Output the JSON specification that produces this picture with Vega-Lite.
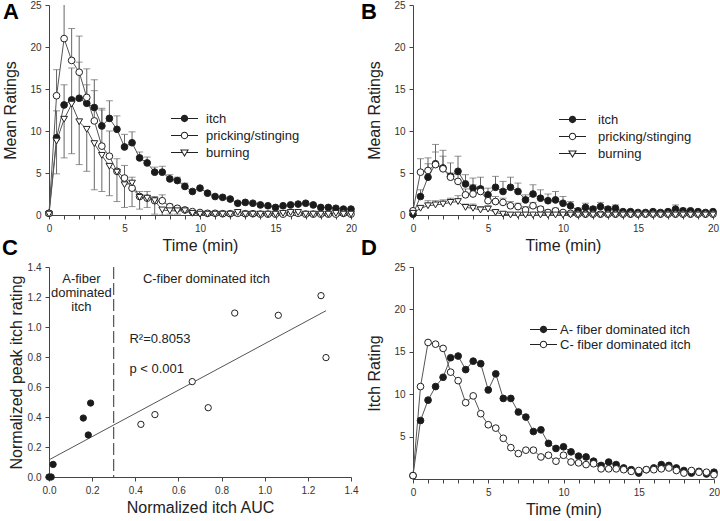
{
"$schema":"https://vega.github.io/schema/vega-lite/v6.json",
"padding":{"left":2,"top":0,"right":2,"bottom":2},
"datasets":{
"ab":[
{"p":"A","s":"itch","t":0,"y":0.2},{"p":"A","s":"itch","t":0.5,"y":9.2,"e":12.4},{"p":"A","s":"itch","t":1,"y":13.1,"e":15.5},{"p":"A","s":"itch","t":1.5,"y":13.7,"e":17.5},{"p":"A","s":"itch","t":2,"y":13.9,"e":18.2},{"p":"A","s":"itch","t":2.5,"y":13.3,"e":15.5},{"p":"A","s":"itch","t":3,"y":12.8,"e":14.8},{"p":"A","s":"itch","t":3.5,"y":10.6,"e":12.5},{"p":"A","s":"itch","t":4,"y":11.5,"e":13.6},{"p":"A","s":"itch","t":4.5,"y":10.2,"e":11.8},{"p":"A","s":"itch","t":5,"y":8.1,"e":9.6},{"p":"A","s":"itch","t":5.5,"y":8.6,"e":9.9},{"p":"A","s":"itch","t":6,"y":6.8,"e":7.5},{"p":"A","s":"itch","t":6.5,"y":6.2,"e":6.9},{"p":"A","s":"itch","t":7,"y":5.1,"e":5.7},{"p":"A","s":"itch","t":7.5,"y":5.1,"e":5.8},{"p":"A","s":"itch","t":8,"y":4.3,"e":4.8},{"p":"A","s":"itch","t":8.5,"y":4.1,"e":4.5},{"p":"A","s":"itch","t":9,"y":3.4,"e":3.8},{"p":"A","s":"itch","t":9.5,"y":2.8},{"p":"A","s":"itch","t":10,"y":3.2},{"p":"A","s":"itch","t":10.5,"y":2.6},{"p":"A","s":"itch","t":11,"y":2.2},{"p":"A","s":"itch","t":11.5,"y":2.1},{"p":"A","s":"itch","t":12,"y":1.9},{"p":"A","s":"itch","t":12.5,"y":1.4},{"p":"A","s":"itch","t":13,"y":1.5},{"p":"A","s":"itch","t":13.5,"y":1.4},{"p":"A","s":"itch","t":14,"y":1.2},{"p":"A","s":"itch","t":14.5,"y":1.1},{"p":"A","s":"itch","t":15,"y":0.9},{"p":"A","s":"itch","t":15.5,"y":1.1},{"p":"A","s":"itch","t":16,"y":1.2},{"p":"A","s":"itch","t":16.5,"y":1.3},{"p":"A","s":"itch","t":17,"y":1.4},{"p":"A","s":"itch","t":17.5,"y":1.2},{"p":"A","s":"itch","t":18,"y":0.9},{"p":"A","s":"itch","t":18.5,"y":0.9},{"p":"A","s":"itch","t":19,"y":0.8},{"p":"A","s":"itch","t":19.5,"y":0.7},{"p":"A","s":"itch","t":20,"y":0.7},
{"p":"A","s":"pricking/stinging","t":0,"y":0.2},{"p":"A","s":"pricking/stinging","t":0.5,"y":14.2,"e":17.3},{"p":"A","s":"pricking/stinging","t":1,"y":21.0,"e":27},{"p":"A","s":"pricking/stinging","t":1.5,"y":18.4,"e":22.2},{"p":"A","s":"pricking/stinging","t":2,"y":17.0,"e":21.3},{"p":"A","s":"pricking/stinging","t":2.5,"y":14.0,"e":17.4},{"p":"A","s":"pricking/stinging","t":3,"y":11.2,"e":16.1},{"p":"A","s":"pricking/stinging","t":3.5,"y":8.2,"e":12.7},{"p":"A","s":"pricking/stinging","t":4,"y":7.0,"e":10.0},{"p":"A","s":"pricking/stinging","t":4.5,"y":5.2,"e":6.7},{"p":"A","s":"pricking/stinging","t":5,"y":4.4,"e":5.9},{"p":"A","s":"pricking/stinging","t":5.5,"y":3.2,"e":4.5},{"p":"A","s":"pricking/stinging","t":6,"y":2.2,"e":2.8},{"p":"A","s":"pricking/stinging","t":6.5,"y":2.0,"e":2.8},{"p":"A","s":"pricking/stinging","t":7,"y":1.7,"e":2.2},{"p":"A","s":"pricking/stinging","t":7.5,"y":1.7,"e":2.4},{"p":"A","s":"pricking/stinging","t":8,"y":1.0,"e":1.3},{"p":"A","s":"pricking/stinging","t":8.5,"y":0.8,"e":1.0},{"p":"A","s":"pricking/stinging","t":9,"y":0.6,"e":0.8},{"p":"A","s":"pricking/stinging","t":9.5,"y":0.4},{"p":"A","s":"pricking/stinging","t":10,"y":0.3},{"p":"A","s":"pricking/stinging","t":10.5,"y":0.2},{"p":"A","s":"pricking/stinging","t":11,"y":0.2},{"p":"A","s":"pricking/stinging","t":11.5,"y":0.15},{"p":"A","s":"pricking/stinging","t":12,"y":0.15},{"p":"A","s":"pricking/stinging","t":12.5,"y":0.2},{"p":"A","s":"pricking/stinging","t":13,"y":0.15},{"p":"A","s":"pricking/stinging","t":13.5,"y":0.15},{"p":"A","s":"pricking/stinging","t":14,"y":0.1},{"p":"A","s":"pricking/stinging","t":14.5,"y":0.1},{"p":"A","s":"pricking/stinging","t":15,"y":0.1},{"p":"A","s":"pricking/stinging","t":15.5,"y":0.1},{"p":"A","s":"pricking/stinging","t":16,"y":0.2},{"p":"A","s":"pricking/stinging","t":16.5,"y":0.2},{"p":"A","s":"pricking/stinging","t":17,"y":0.1},{"p":"A","s":"pricking/stinging","t":17.5,"y":0.1},{"p":"A","s":"pricking/stinging","t":18,"y":0.1},{"p":"A","s":"pricking/stinging","t":18.5,"y":0.1},{"p":"A","s":"pricking/stinging","t":19,"y":0.1},{"p":"A","s":"pricking/stinging","t":19.5,"y":0.2},{"p":"A","s":"pricking/stinging","t":20,"y":0.1},
{"p":"A","s":"burning","t":0,"y":0.1},{"p":"A","s":"burning","t":0.5,"y":8.8,"e":4.9},{"p":"A","s":"burning","t":1,"y":11.4,"e":6.8},{"p":"A","s":"burning","t":1.5,"y":13.2,"e":7.3},{"p":"A","s":"burning","t":2,"y":11.1,"e":6.0},{"p":"A","s":"burning","t":2.5,"y":10.2,"e":5.2},{"p":"A","s":"burning","t":3,"y":8.5,"e":3.0},{"p":"A","s":"burning","t":3.5,"y":7.1,"e":2.8},{"p":"A","s":"burning","t":4,"y":5.8,"e":2.3},{"p":"A","s":"burning","t":4.5,"y":5.1,"e":1.6},{"p":"A","s":"burning","t":5,"y":3.6,"e":0.9},{"p":"A","s":"burning","t":5.5,"y":3.8,"e":1.0},{"p":"A","s":"burning","t":6,"y":2.1,"e":0.7},{"p":"A","s":"burning","t":6.5,"y":2.0,"e":0.9},{"p":"A","s":"burning","t":7,"y":1.7,"e":0.1},{"p":"A","s":"burning","t":7.5,"y":0.6,"e":0.0},{"p":"A","s":"burning","t":8,"y":0.5,"e":0.1},{"p":"A","s":"burning","t":8.5,"y":0.5,"e":0.1},{"p":"A","s":"burning","t":9,"y":0.5},{"p":"A","s":"burning","t":9.5,"y":0.2},{"p":"A","s":"burning","t":10,"y":0.1},{"p":"A","s":"burning","t":10.5,"y":0.1},{"p":"A","s":"burning","t":11,"y":0.1},{"p":"A","s":"burning","t":11.5,"y":0.1},{"p":"A","s":"burning","t":12,"y":0.1},{"p":"A","s":"burning","t":12.5,"y":0.3},{"p":"A","s":"burning","t":13,"y":0.1},{"p":"A","s":"burning","t":13.5,"y":0.1},{"p":"A","s":"burning","t":14,"y":0.1},{"p":"A","s":"burning","t":14.5,"y":0.1},{"p":"A","s":"burning","t":15,"y":0.1},{"p":"A","s":"burning","t":15.5,"y":0.2},{"p":"A","s":"burning","t":16,"y":0.3},{"p":"A","s":"burning","t":16.5,"y":0.3},{"p":"A","s":"burning","t":17,"y":0.1},{"p":"A","s":"burning","t":17.5,"y":0.1},{"p":"A","s":"burning","t":18,"y":0.1},{"p":"A","s":"burning","t":18.5,"y":0.1},{"p":"A","s":"burning","t":19,"y":0.2},{"p":"A","s":"burning","t":19.5,"y":0.1},{"p":"A","s":"burning","t":20,"y":0.1},
{"p":"B","s":"itch","t":0,"y":0.1},{"p":"B","s":"itch","t":0.5,"y":2.2,"e":3.0},{"p":"B","s":"itch","t":1,"y":4.5,"e":6.1},{"p":"B","s":"itch","t":1.5,"y":6.1,"e":8.4},{"p":"B","s":"itch","t":2,"y":5.6,"e":7.7},{"p":"B","s":"itch","t":2.5,"y":4.6,"e":5.0},{"p":"B","s":"itch","t":3,"y":5.2,"e":7.0},{"p":"B","s":"itch","t":3.5,"y":3.7,"e":4.8},{"p":"B","s":"itch","t":4,"y":3.2,"e":4.4},{"p":"B","s":"itch","t":4.5,"y":3.1,"e":4.5},{"p":"B","s":"itch","t":5,"y":2.4,"e":3.2},{"p":"B","s":"itch","t":5.5,"y":3.3,"e":4.6},{"p":"B","s":"itch","t":6,"y":2.8,"e":4.0},{"p":"B","s":"itch","t":6.5,"y":3.3,"e":4.5},{"p":"B","s":"itch","t":7,"y":2.8,"e":3.8},{"p":"B","s":"itch","t":7.5,"y":1.8,"e":2.4},{"p":"B","s":"itch","t":8,"y":2.5,"e":3.6},{"p":"B","s":"itch","t":8.5,"y":2.0,"e":3.0},{"p":"B","s":"itch","t":9,"y":1.7,"e":2.5},{"p":"B","s":"itch","t":9.5,"y":1.8,"e":2.8},{"p":"B","s":"itch","t":10,"y":1.4,"e":2.2},{"p":"B","s":"itch","t":10.5,"y":1.1,"e":1.6},{"p":"B","s":"itch","t":11,"y":0.5,"e":0.8},{"p":"B","s":"itch","t":11.5,"y":0.9,"e":1.4},{"p":"B","s":"itch","t":12,"y":0.7,"e":1.0},{"p":"B","s":"itch","t":12.5,"y":1.0,"e":1.5},{"p":"B","s":"itch","t":13,"y":0.7,"e":1.0},{"p":"B","s":"itch","t":13.5,"y":0.8,"e":1.2},{"p":"B","s":"itch","t":14,"y":0.4,"e":0.6},{"p":"B","s":"itch","t":14.5,"y":0.4,"e":0.6},{"p":"B","s":"itch","t":15,"y":0.3,"e":0.5},{"p":"B","s":"itch","t":15.5,"y":0.3,"e":0.4},{"p":"B","s":"itch","t":16,"y":0.4,"e":0.6},{"p":"B","s":"itch","t":16.5,"y":0.3,"e":0.5},{"p":"B","s":"itch","t":17,"y":0.4,"e":0.6},{"p":"B","s":"itch","t":17.5,"y":0.7,"e":1.2},{"p":"B","s":"itch","t":18,"y":0.5,"e":0.8},{"p":"B","s":"itch","t":18.5,"y":0.5,"e":0.7},{"p":"B","s":"itch","t":19,"y":0.4,"e":0.6},{"p":"B","s":"itch","t":19.5,"y":0.3,"e":0.5},{"p":"B","s":"itch","t":20,"y":0.4,"e":0.6},
{"p":"B","s":"pricking/stinging","t":0,"y":0.5},{"p":"B","s":"pricking/stinging","t":0.5,"y":5.1,"e":6.7},{"p":"B","s":"pricking/stinging","t":1,"y":5.3,"e":6.8},{"p":"B","s":"pricking/stinging","t":1.5,"y":6.0,"e":7.5},{"p":"B","s":"pricking/stinging","t":2,"y":5.5,"e":7.0},{"p":"B","s":"pricking/stinging","t":2.5,"y":4.5,"e":6.2},{"p":"B","s":"pricking/stinging","t":3,"y":4.0,"e":4.8},{"p":"B","s":"pricking/stinging","t":3.5,"y":2.4,"e":3.1},{"p":"B","s":"pricking/stinging","t":4,"y":2.5,"e":3.6},{"p":"B","s":"pricking/stinging","t":4.5,"y":2.8,"e":3.4},{"p":"B","s":"pricking/stinging","t":5,"y":1.7,"e":2.3},{"p":"B","s":"pricking/stinging","t":5.5,"y":1.6,"e":2.2},{"p":"B","s":"pricking/stinging","t":6,"y":1.5,"e":2.0},{"p":"B","s":"pricking/stinging","t":6.5,"y":1.1,"e":1.6},{"p":"B","s":"pricking/stinging","t":7,"y":1.0,"e":1.4},{"p":"B","s":"pricking/stinging","t":7.5,"y":0.6,"e":1.0},{"p":"B","s":"pricking/stinging","t":8,"y":1.1,"e":1.5},{"p":"B","s":"pricking/stinging","t":8.5,"y":0.7,"e":1.0},{"p":"B","s":"pricking/stinging","t":9,"y":0.3,"e":0.6},{"p":"B","s":"pricking/stinging","t":9.5,"y":0.5,"e":0.8},{"p":"B","s":"pricking/stinging","t":10,"y":0.3,"e":0.5},{"p":"B","s":"pricking/stinging","t":10.5,"y":0.2},{"p":"B","s":"pricking/stinging","t":11,"y":0.1},{"p":"B","s":"pricking/stinging","t":11.5,"y":0.1},{"p":"B","s":"pricking/stinging","t":12,"y":0.1},{"p":"B","s":"pricking/stinging","t":12.5,"y":0.1},{"p":"B","s":"pricking/stinging","t":13,"y":0.1},{"p":"B","s":"pricking/stinging","t":13.5,"y":0.1},{"p":"B","s":"pricking/stinging","t":14,"y":0.1},{"p":"B","s":"pricking/stinging","t":14.5,"y":0.1},{"p":"B","s":"pricking/stinging","t":15,"y":0.1},{"p":"B","s":"pricking/stinging","t":15.5,"y":0.1},{"p":"B","s":"pricking/stinging","t":16,"y":0.1},{"p":"B","s":"pricking/stinging","t":16.5,"y":0.1},{"p":"B","s":"pricking/stinging","t":17,"y":0.1},{"p":"B","s":"pricking/stinging","t":17.5,"y":0.1},{"p":"B","s":"pricking/stinging","t":18,"y":0.1},{"p":"B","s":"pricking/stinging","t":18.5,"y":0.1},{"p":"B","s":"pricking/stinging","t":19,"y":0.1},{"p":"B","s":"pricking/stinging","t":19.5,"y":0.1},{"p":"B","s":"pricking/stinging","t":20,"y":0.1},
{"p":"B","s":"burning","t":0,"y":0.2},{"p":"B","s":"burning","t":0.5,"y":0.8,"e":1.1},{"p":"B","s":"burning","t":1,"y":1.1,"e":1.7},{"p":"B","s":"burning","t":1.5,"y":1.2,"e":1.7},{"p":"B","s":"burning","t":2,"y":1.3,"e":1.8},{"p":"B","s":"burning","t":2.5,"y":1.5,"e":2.0},{"p":"B","s":"burning","t":3,"y":1.6,"e":2.3},{"p":"B","s":"burning","t":3.5,"y":0.9,"e":1.3},{"p":"B","s":"burning","t":4,"y":0.8,"e":1.3},{"p":"B","s":"burning","t":4.5,"y":0.6,"e":1.0},{"p":"B","s":"burning","t":5,"y":0.7,"e":1.1},{"p":"B","s":"burning","t":5.5,"y":0.3,"e":0.5},{"p":"B","s":"burning","t":6,"y":0.1,"e":0.2},{"p":"B","s":"burning","t":6.5,"y":0.0},{"p":"B","s":"burning","t":7,"y":0.0},{"p":"B","s":"burning","t":7.5,"y":0.0},{"p":"B","s":"burning","t":8,"y":0.0},{"p":"B","s":"burning","t":8.5,"y":0.0},{"p":"B","s":"burning","t":9,"y":0.0},{"p":"B","s":"burning","t":9.5,"y":0.0},{"p":"B","s":"burning","t":10,"y":0.0},{"p":"B","s":"burning","t":10.5,"y":0.0},{"p":"B","s":"burning","t":11,"y":0.0},{"p":"B","s":"burning","t":11.5,"y":0.0},{"p":"B","s":"burning","t":12,"y":0.0},{"p":"B","s":"burning","t":12.5,"y":0.0},{"p":"B","s":"burning","t":13,"y":0.0},{"p":"B","s":"burning","t":13.5,"y":0.0},{"p":"B","s":"burning","t":14,"y":0.0},{"p":"B","s":"burning","t":14.5,"y":0.0},{"p":"B","s":"burning","t":15,"y":0.0},{"p":"B","s":"burning","t":15.5,"y":0.0},{"p":"B","s":"burning","t":16,"y":0.0},{"p":"B","s":"burning","t":16.5,"y":0.0},{"p":"B","s":"burning","t":17,"y":0.0},{"p":"B","s":"burning","t":17.5,"y":0.0},{"p":"B","s":"burning","t":18,"y":0.0},{"p":"B","s":"burning","t":18.5,"y":0.0},{"p":"B","s":"burning","t":19,"y":0.0},{"p":"B","s":"burning","t":19.5,"y":0.0},{"p":"B","s":"burning","t":20,"y":0.0}
],
"c":[
{"g":"A","x":0,"y":0},{"g":"A","x":0.01,"y":0},{"g":"A","x":0.019,"y":0.084},{"g":"A","x":0.159,"y":0.393},{"g":"A","x":0.182,"y":0.28},{"g":"A","x":0.193,"y":0.493},
{"g":"C","x":0.426,"y":0.351},{"g":"C","x":0.491,"y":0.416},{"g":"C","x":0.664,"y":0.636},{"g":"C","x":0.738,"y":0.462},{"g":"C","x":0.861,"y":1.093},{"g":"C","x":1.063,"y":1.078},{"g":"C","x":1.261,"y":1.209},{"g":"C","x":1.284,"y":0.796}
],
"cutoff":[{"x":0.3}],
"regions":[{"label":"A-fiber\ndominated\nitch","x":0.15,"y":1.36},{"label":"C-fiber dominated itch","x":0.73,"y":1.36}],
"stats":[{"label":"R²=0.8053","x":0.373,"y":0.92},{"label":"p < 0.001","x":0.373,"y":0.72}],
"d":[
{"s":"A- fiber dominated itch","t":0,"y":0.4},{"s":"A- fiber dominated itch","t":0.5,"y":6.9},{"s":"A- fiber dominated itch","t":1,"y":9.3},{"s":"A- fiber dominated itch","t":1.5,"y":10.9},{"s":"A- fiber dominated itch","t":2,"y":12.0},{"s":"A- fiber dominated itch","t":2.5,"y":14.3},{"s":"A- fiber dominated itch","t":3,"y":14.5},{"s":"A- fiber dominated itch","t":3.5,"y":12.9},{"s":"A- fiber dominated itch","t":4,"y":13.9},{"s":"A- fiber dominated itch","t":4.5,"y":13.6},{"s":"A- fiber dominated itch","t":5,"y":10.5},{"s":"A- fiber dominated itch","t":5.5,"y":12.4},{"s":"A- fiber dominated itch","t":6,"y":9.5},{"s":"A- fiber dominated itch","t":6.5,"y":9.5},{"s":"A- fiber dominated itch","t":7,"y":7.9},{"s":"A- fiber dominated itch","t":7.5,"y":7.3},{"s":"A- fiber dominated itch","t":8,"y":5.6},{"s":"A- fiber dominated itch","t":8.5,"y":5.8},{"s":"A- fiber dominated itch","t":9,"y":4.2},{"s":"A- fiber dominated itch","t":9.5,"y":3.6},{"s":"A- fiber dominated itch","t":10,"y":3.8},{"s":"A- fiber dominated itch","t":10.5,"y":3.2},{"s":"A- fiber dominated itch","t":11,"y":2.7},{"s":"A- fiber dominated itch","t":11.5,"y":2.6},{"s":"A- fiber dominated itch","t":12,"y":2.1},{"s":"A- fiber dominated itch","t":12.5,"y":1.6},{"s":"A- fiber dominated itch","t":13,"y":2.0},{"s":"A- fiber dominated itch","t":13.5,"y":1.7},{"s":"A- fiber dominated itch","t":14,"y":1.3},{"s":"A- fiber dominated itch","t":14.5,"y":1.1},{"s":"A- fiber dominated itch","t":15,"y":0.7},{"s":"A- fiber dominated itch","t":15.5,"y":1.1},{"s":"A- fiber dominated itch","t":16,"y":1.3},{"s":"A- fiber dominated itch","t":16.5,"y":1.7},{"s":"A- fiber dominated itch","t":17,"y":1.6},{"s":"A- fiber dominated itch","t":17.5,"y":1.3},{"s":"A- fiber dominated itch","t":18,"y":1.0},{"s":"A- fiber dominated itch","t":18.5,"y":0.7},{"s":"A- fiber dominated itch","t":19,"y":0.9},{"s":"A- fiber dominated itch","t":19.5,"y":0.6},{"s":"A- fiber dominated itch","t":20,"y":0.8},
{"s":"C- fiber dominated itch","t":0,"y":0.4},{"s":"C- fiber dominated itch","t":0.5,"y":10.9},{"s":"C- fiber dominated itch","t":1,"y":16.1},{"s":"C- fiber dominated itch","t":1.5,"y":15.9},{"s":"C- fiber dominated itch","t":2,"y":15.4},{"s":"C- fiber dominated itch","t":2.5,"y":12.6},{"s":"C- fiber dominated itch","t":3,"y":11.6},{"s":"C- fiber dominated itch","t":3.5,"y":9.0},{"s":"C- fiber dominated itch","t":4,"y":9.8},{"s":"C- fiber dominated itch","t":4.5,"y":7.7},{"s":"C- fiber dominated itch","t":5,"y":6.4},{"s":"C- fiber dominated itch","t":5.5,"y":6.0},{"s":"C- fiber dominated itch","t":6,"y":4.8},{"s":"C- fiber dominated itch","t":6.5,"y":3.7},{"s":"C- fiber dominated itch","t":7,"y":3.0},{"s":"C- fiber dominated itch","t":7.5,"y":3.4},{"s":"C- fiber dominated itch","t":8,"y":3.4},{"s":"C- fiber dominated itch","t":8.5,"y":2.6},{"s":"C- fiber dominated itch","t":9,"y":2.8},{"s":"C- fiber dominated itch","t":9.5,"y":2.1},{"s":"C- fiber dominated itch","t":10,"y":2.8},{"s":"C- fiber dominated itch","t":10.5,"y":2.0},{"s":"C- fiber dominated itch","t":11,"y":1.9},{"s":"C- fiber dominated itch","t":11.5,"y":1.7},{"s":"C- fiber dominated itch","t":12,"y":1.8},{"s":"C- fiber dominated itch","t":12.5,"y":1.2},{"s":"C- fiber dominated itch","t":13,"y":1.2},{"s":"C- fiber dominated itch","t":13.5,"y":1.2},{"s":"C- fiber dominated itch","t":14,"y":1.1},{"s":"C- fiber dominated itch","t":14.5,"y":0.9},{"s":"C- fiber dominated itch","t":15,"y":1.0},{"s":"C- fiber dominated itch","t":15.5,"y":1.1},{"s":"C- fiber dominated itch","t":16,"y":1.1},{"s":"C- fiber dominated itch","t":16.5,"y":1.2},{"s":"C- fiber dominated itch","t":17,"y":1.3},{"s":"C- fiber dominated itch","t":17.5,"y":1.0},{"s":"C- fiber dominated itch","t":18,"y":0.7},{"s":"C- fiber dominated itch","t":18.5,"y":1.0},{"s":"C- fiber dominated itch","t":19,"y":0.8},{"s":"C- fiber dominated itch","t":19.5,"y":0.8},{"s":"C- fiber dominated itch","t":20,"y":0.5}
]
},
"columns":2,
"spacing":{"row":52,"column":62},
"bounds":"flush",
"resolve":{"scale":{"fill":"independent","shape":"independent"},"legend":{"fill":"independent","shape":"independent"}},
"concat":[
{"width":302,"height":210,
"title":{"text":"A","dx":-46,"dy":28},
"data":{"name":"ab"},
"transform":[{"filter":"datum.p === 'A'"}],
"encoding":{
"x":{"field":"t","type":"quantitative","scale":{"domain":[0,20],"nice":false},"axis":{"title":"Time (min)","values":[0,1,2,3,4,5,6,7,8,9,10,11,12,13,14,15,16,17,18,19,20],"labelExpr":"datum.value % 5 === 0 ? datum.label : ''"}},
"y":{"field":"y","type":"quantitative","title":"Mean Ratings","scale":{"domain":[0,25],"nice":false},"axis":{"values":[0,5,10,15,20,25],"titlePadding":11}}
},
"layer":[
{"transform":[{"filter":"isValid(datum.e)"}],"mark":{"type":"rule","color":"#666","strokeWidth":1,"clip":true},"encoding":{"y2":{"field":"e"}}},
{"transform":[{"filter":"isValid(datum.e)"}],"mark":{"type":"tick","orient":"horizontal","color":"#666","size":7,"thickness":1,"clip":true},"encoding":{"y":{"field":"e","type":"quantitative","title":"Mean Ratings"}}},
{"mark":{"type":"line","color":"#555","strokeWidth":1},"encoding":{"detail":{"field":"s"}}},
{"mark":{"type":"point","filled":true,"stroke":"#222","strokeWidth":1,"size":45,"opacity":1},"encoding":{
"shape":{"field":"s","scale":{"domain":["itch","pricking/stinging","burning"],"range":["circle","circle","triangle-down"]},"legend":null},
"fill":{"field":"s","scale":{"domain":["itch","pricking/stinging","burning"],"range":["#1a1a1a","#ffffff","#ffffff"]},"legend":null}}},
{"transform":[{"filter":"false"}],"mark":{"type":"point","filled":true,"color":"#222","opacity":1},"encoding":{
"shape":{"field":"s","scale":{"domain":["itch","pricking/stinging","burning"],"range":[
"M-1,-0.037H-0.25V0.037H-1ZM0.25,-0.037H1V0.037H0.25ZM-0.27,0A0.27,0.27 0 1 1 0.27,0A0.27,0.27 0 1 1 -0.27,0Z",
"M-1,-0.037H-0.25V0.037H-1ZM0.25,-0.037H1V0.037H0.25ZM-0.27,0A0.27,0.27 0 1 1 0.27,0A0.27,0.27 0 1 1 -0.27,0ZM-0.2,0A0.2,0.2 0 1 0 0.2,0A0.2,0.2 0 1 0 -0.2,0Z",
"M-1,-0.037H-0.19V0.037H-1ZM0.19,-0.037H1V0.037H0.19ZM-0.33,-0.22L0.33,-0.22L0,0.33ZM-0.199,-0.146L0,0.186L0.199,-0.146Z"]},
"legend":{"title":null,"orient":"none","legendX":122,"legendY":105,"symbolSize":729,"clipHeight":17,"rowPadding":0,"labelOffset":8,"labelFontSize":13,"labelColor":"#222","symbolStrokeWidth":0,"padding":0}}}}
],
"resolve":{"scale":{"shape":"independent"},"legend":{"shape":"independent"}}
},
{"width":300,"height":210,
"title":{"text":"B","dx":-52,"dy":28},
"data":{"name":"ab"},
"transform":[{"filter":"datum.p === 'B'"}],
"encoding":{
"x":{"field":"t","type":"quantitative","scale":{"domain":[0,20],"nice":false},"axis":{"title":"Time (min)","values":[0,1,2,3,4,5,6,7,8,9,10,11,12,13,14,15,16,17,18,19,20],"labelExpr":"datum.value % 5 === 0 ? datum.label : ''"}},
"y":{"field":"y","type":"quantitative","title":"Mean Ratings","scale":{"domain":[0,25],"nice":false},"axis":{"values":[0,5,10,15,20,25],"titlePadding":11}}
},
"layer":[
{"transform":[{"filter":"isValid(datum.e)"}],"mark":{"type":"rule","color":"#666","strokeWidth":1,"clip":true},"encoding":{"y2":{"field":"e"}}},
{"transform":[{"filter":"isValid(datum.e)"}],"mark":{"type":"tick","orient":"horizontal","color":"#666","size":7,"thickness":1,"clip":true},"encoding":{"y":{"field":"e","type":"quantitative","title":"Mean Ratings"}}},
{"mark":{"type":"line","color":"#555","strokeWidth":1},"encoding":{"detail":{"field":"s"}}},
{"mark":{"type":"point","filled":true,"stroke":"#222","strokeWidth":1,"size":45,"opacity":1},"encoding":{
"shape":{"field":"s","scale":{"domain":["itch","pricking/stinging","burning"],"range":["circle","circle","triangle-down"]},"legend":null},
"fill":{"field":"s","scale":{"domain":["itch","pricking/stinging","burning"],"range":["#1a1a1a","#ffffff","#ffffff"]},"legend":null}}},
{"transform":[{"filter":"false"}],"mark":{"type":"point","filled":true,"color":"#222","opacity":1},"encoding":{
"shape":{"field":"s","scale":{"domain":["itch","pricking/stinging","burning"],"range":[
"M-1,-0.037H-0.25V0.037H-1ZM0.25,-0.037H1V0.037H0.25ZM-0.27,0A0.27,0.27 0 1 1 0.27,0A0.27,0.27 0 1 1 -0.27,0Z",
"M-1,-0.037H-0.25V0.037H-1ZM0.25,-0.037H1V0.037H0.25ZM-0.27,0A0.27,0.27 0 1 1 0.27,0A0.27,0.27 0 1 1 -0.27,0ZM-0.2,0A0.2,0.2 0 1 0 0.2,0A0.2,0.2 0 1 0 -0.2,0Z",
"M-1,-0.037H-0.19V0.037H-1ZM0.19,-0.037H1V0.037H0.19ZM-0.33,-0.22L0.33,-0.22L0,0.33ZM-0.199,-0.146L0,0.186L0.199,-0.146Z"]},
"legend":{"title":null,"orient":"none","legendX":146,"legendY":106,"symbolSize":729,"clipHeight":17,"rowPadding":0,"labelOffset":12,"labelFontSize":13,"labelColor":"#222","symbolStrokeWidth":0,"padding":0}}}}
],
"resolve":{"scale":{"shape":"independent"},"legend":{"shape":"independent"}}
},
{"width":302,"height":210,
"title":{"text":"C","dx":-47,"dy":2},
"encoding":{
"x":{"field":"x","type":"quantitative","scale":{"domain":[0,1.4],"nice":false},"axis":{"title":"Normalized itch AUC","values":[0,0.2,0.4,0.6,0.8,1.0,1.2,1.4],"format":".1f"}},
"y":{"field":"y","type":"quantitative","scale":{"domain":[0,1.4],"nice":false},"axis":{"title":"Normalized peak itch rating","values":[0,0.2,0.4,0.6,0.8,1.0,1.2,1.4],"format":".1f","titlePadding":3}}
},
"layer":[
{"data":{"name":"cutoff"},"mark":{"type":"rule","color":"#333","strokeWidth":1,"strokeDash":[12,4]},"encoding":{"y":null}},
{"data":{"name":"c"},"transform":[{"regression":"y","on":"x"}],"mark":{"type":"line","color":"#555","strokeWidth":1}},
{"data":{"name":"c"},"mark":{"type":"point","filled":true,"stroke":"#222","strokeWidth":1,"size":40,"opacity":1},"encoding":{"fill":{"field":"g","scale":{"domain":["A","C"],"range":["#1a1a1a","#ffffff"]},"legend":null}}},
{"data":{"name":"regions"},"mark":{"type":"text","align":"center","baseline":"top","fontSize":13,"lineBreak":"\n","lineHeight":14,"color":"#222"},"encoding":{"text":{"field":"label"}}},
{"data":{"name":"stats"},"mark":{"type":"text","align":"left","baseline":"middle","fontSize":13,"color":"#222"},"encoding":{"text":{"field":"label"}}}
]
},
{"width":301,"height":212,
"title":{"text":"D","dx":-52,"dy":2},
"data":{"name":"d"},
"encoding":{
"x":{"field":"t","type":"quantitative","scale":{"domain":[0,20],"nice":false},"axis":{"title":"Time (min)","values":[0,1,2,3,4,5,6,7,8,9,10,11,12,13,14,15,16,17,18,19,20],"labelExpr":"datum.value % 5 === 0 ? datum.label : ''"}},
"y":{"field":"y","type":"quantitative","scale":{"domain":[0,25],"nice":false},"axis":{"title":"Itch Rating","values":[5,10,15,20,25],"titlePadding":11}}
},
"layer":[
{"mark":{"type":"line","color":"#555","strokeWidth":1},"encoding":{"detail":{"field":"s"}}},
{"mark":{"type":"point","filled":true,"stroke":"#222","strokeWidth":1,"size":45,"opacity":1},"encoding":{
"fill":{"field":"s","scale":{"domain":["A- fiber dominated itch","C- fiber dominated itch"],"range":["#1a1a1a","#ffffff"]},"legend":null}}},
{"transform":[{"filter":"false"}],"mark":{"type":"point","filled":true,"color":"#222","opacity":1},"encoding":{
"shape":{"field":"s","scale":{"domain":["A- fiber dominated itch","C- fiber dominated itch"],"range":[
"M-1,-0.037H-0.25V0.037H-1ZM0.25,-0.037H1V0.037H0.25ZM-0.27,0A0.27,0.27 0 1 1 0.27,0A0.27,0.27 0 1 1 -0.27,0Z",
"M-1,-0.037H-0.25V0.037H-1ZM0.25,-0.037H1V0.037H0.25ZM-0.27,0A0.27,0.27 0 1 1 0.27,0A0.27,0.27 0 1 1 -0.27,0ZM-0.2,0A0.2,0.2 0 1 0 0.2,0A0.2,0.2 0 1 0 -0.2,0Z"]},
"legend":{"title":null,"orient":"none","legendX":117,"legendY":55,"symbolSize":729,"clipHeight":15,"rowPadding":0,"labelOffset":3,"labelFontSize":13,"labelColor":"#222","symbolStrokeWidth":0,"padding":0}}}}
],
"resolve":{"scale":{"shape":"independent","fill":"independent"},"legend":{"shape":"independent","fill":"independent"}}
}
],
"config":{
"view":{"stroke":null},
"font":"Liberation Sans",
"axis":{"grid":false,"domainColor":"#444","tickColor":"#444","labelColor":"#333","titleColor":"#222","labelFontSize":10,"titleFontSize":16,"titleFontWeight":"normal","tickSize":4,"labelPadding":4,"labelFlush":false,"labelOverlap":false},
"title":{"fontSize":22,"fontWeight":"bold","anchor":"start","frame":"group","offset":0,"color":"#000"}
}
}
